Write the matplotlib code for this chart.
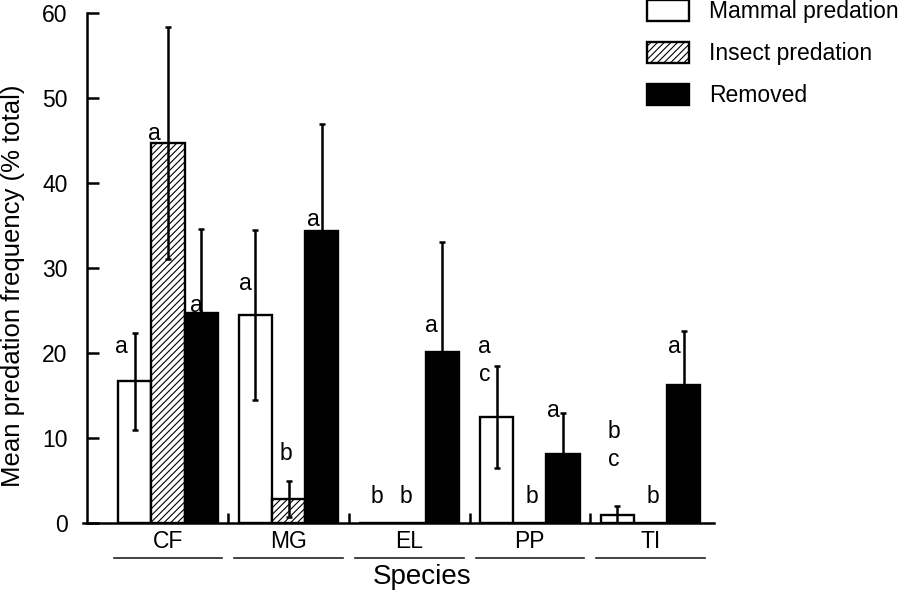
import numpy as np
import matplotlib
matplotlib.use("Agg")
import matplotlib.pyplot as plt
from matplotlib.ticker import FixedLocator
import matplotlib.transforms as mtransforms

plt.rcParams['font.family'] = ['Liberation Sans', 'DejaVu Sans']
plt.rcParams['hatch.linewidth'] = 0.8

species = ['CF', 'MG', 'EL', 'PP', 'TI']
series_names = ['Mammal predation', 'Insect predation', 'Removed']

mammal = [16.7, 24.5, 0.0, 12.5, 1.0]
mammal_err = [5.7, 10.0, 0.0, 6.0, 1.0]
insect = [44.7, 2.8, 0.0, 0.0, 0.0]
insect_err = [13.6, 2.1, 0.0, 0.0, 0.0]
removed = [24.7, 34.4, 20.1, 8.1, 16.2]
removed_err = [9.9, 12.6, 13.0, 4.9, 6.4]

# significance letters: (group, series, text, baseline y)
letters = [
    (0, 0, 'a', 20.0), (0, 1, 'a', 45.1), (0, 2, 'a', 24.8),
    (1, 0, 'a', 27.4), (1, 1, 'b', 7.4), (1, 2, 'a', 34.9),
    (2, 0, 'b', 2.35), (2, 1, 'b', 2.35), (2, 2, 'a', 22.5),
    (3, 0, 'a', 20.0), (3, 0, 'c', 16.7), (3, 1, 'b', 2.35), (3, 2, 'a', 12.5),
    (4, 0, 'b', 10.0), (4, 0, 'c', 6.7), (4, 1, 'b', 2.35), (4, 2, 'a', 20.0),
]
letter_dx = {(0, 0): -0.11, (0, 1): -0.11, (0, 2): -0.04,
             (1, 0): -0.08, (1, 1): -0.02, (1, 2): -0.07,
             (2, 0): 0.01, (2, 1): -0.03, (2, 2): -0.09,
             (3, 0): -0.10, (3, 1): 0.02, (3, 2): -0.08,
             (4, 0): -0.03, (4, 1): 0.02, (4, 2): -0.08}

fig = plt.figure(figsize=(9, 5.92), dpi=100)
ax = fig.add_axes([83/900, 1-523/592, 631/900, 510/592])

x = np.arange(len(species))
w = 0.275
means = [mammal, insect, removed]
errs = [mammal_err, insect_err, removed_err]
styles = [dict(color='white', hatch=None),
          dict(color='white', hatch='/////'),
          dict(color='black', hatch=None)]

handles = []
for k in range(3):
    xs = x + (k - 1) * w
    b = ax.bar(xs, means[k], width=w, facecolor=styles[k]['color'],
               edgecolor='black', linewidth=1.7, hatch=styles[k]['hatch'],
               label=series_names[k], zorder=2)
    handles.append(b)
    m = np.array(errs[k]) > 0
    ax.errorbar(xs[m], np.array(means[k])[m], yerr=np.array(errs[k])[m],
                fmt='none', ecolor='black', elinewidth=1.8, capsize=2.5,
                capthick=1.8, zorder=3)

for g, s, t, yv in letters:
    ax.text(x[g] + (s - 1) * w + letter_dx[(g, s)], yv, t, fontsize=16.5,
            ha='center', va='baseline', zorder=4)

ax.set_xlim(-0.705, 4.527)
ax.set_ylim(0, 60)
ax.spines['top'].set_visible(False)
ax.spines['right'].set_visible(False)
ax.spines['left'].set_position(('data', -0.672))
ax.spines['left'].set_linewidth(1.8)
ax.spines['bottom'].set_linewidth(1.8)

ax.set_yticks(np.arange(0, 61, 10))
ax.tick_params(axis='y', direction='in', length=8.6, width=1.8,
               labelsize=16.5, pad=14)
ax.set_xticks(x)
ax.set_xticklabels(species)
ax.tick_params(axis='x', which='major', length=0, labelsize=16.5, pad=5)
ax.xaxis.set_minor_locator(FixedLocator(x[:-1] + 0.5))
ax.tick_params(axis='x', which='minor', direction='in', length=7, width=1.8)

# lines under species names
trans = mtransforms.blended_transform_factory(ax.transData, ax.transAxes)
for xi in x:
    ax.plot([xi - 0.45, xi + 0.45], [-0.069, -0.069], color='#222222',
            linewidth=1.2, transform=trans, clip_on=False)

ax.text(0.537, -0.106, 'Species', transform=ax.transAxes, fontsize=20,
        ha='center', va='center')
fig.text(13/900, 1-286/592, 'Mean predation frequency (% total)',
         rotation=90, fontsize=18.5, ha='center', va='center')

ax.legend(handles=handles, loc='upper left', bbox_to_anchor=(647/900, 1.0),
          bbox_transform=fig.transFigure, frameon=False, borderpad=0,
          borderaxespad=0, handlelength=1.85, handleheight=1.05,
          handletextpad=0.85, labelspacing=0.8, fontsize=16.5)

plt.savefig('out.png', dpi=100)
